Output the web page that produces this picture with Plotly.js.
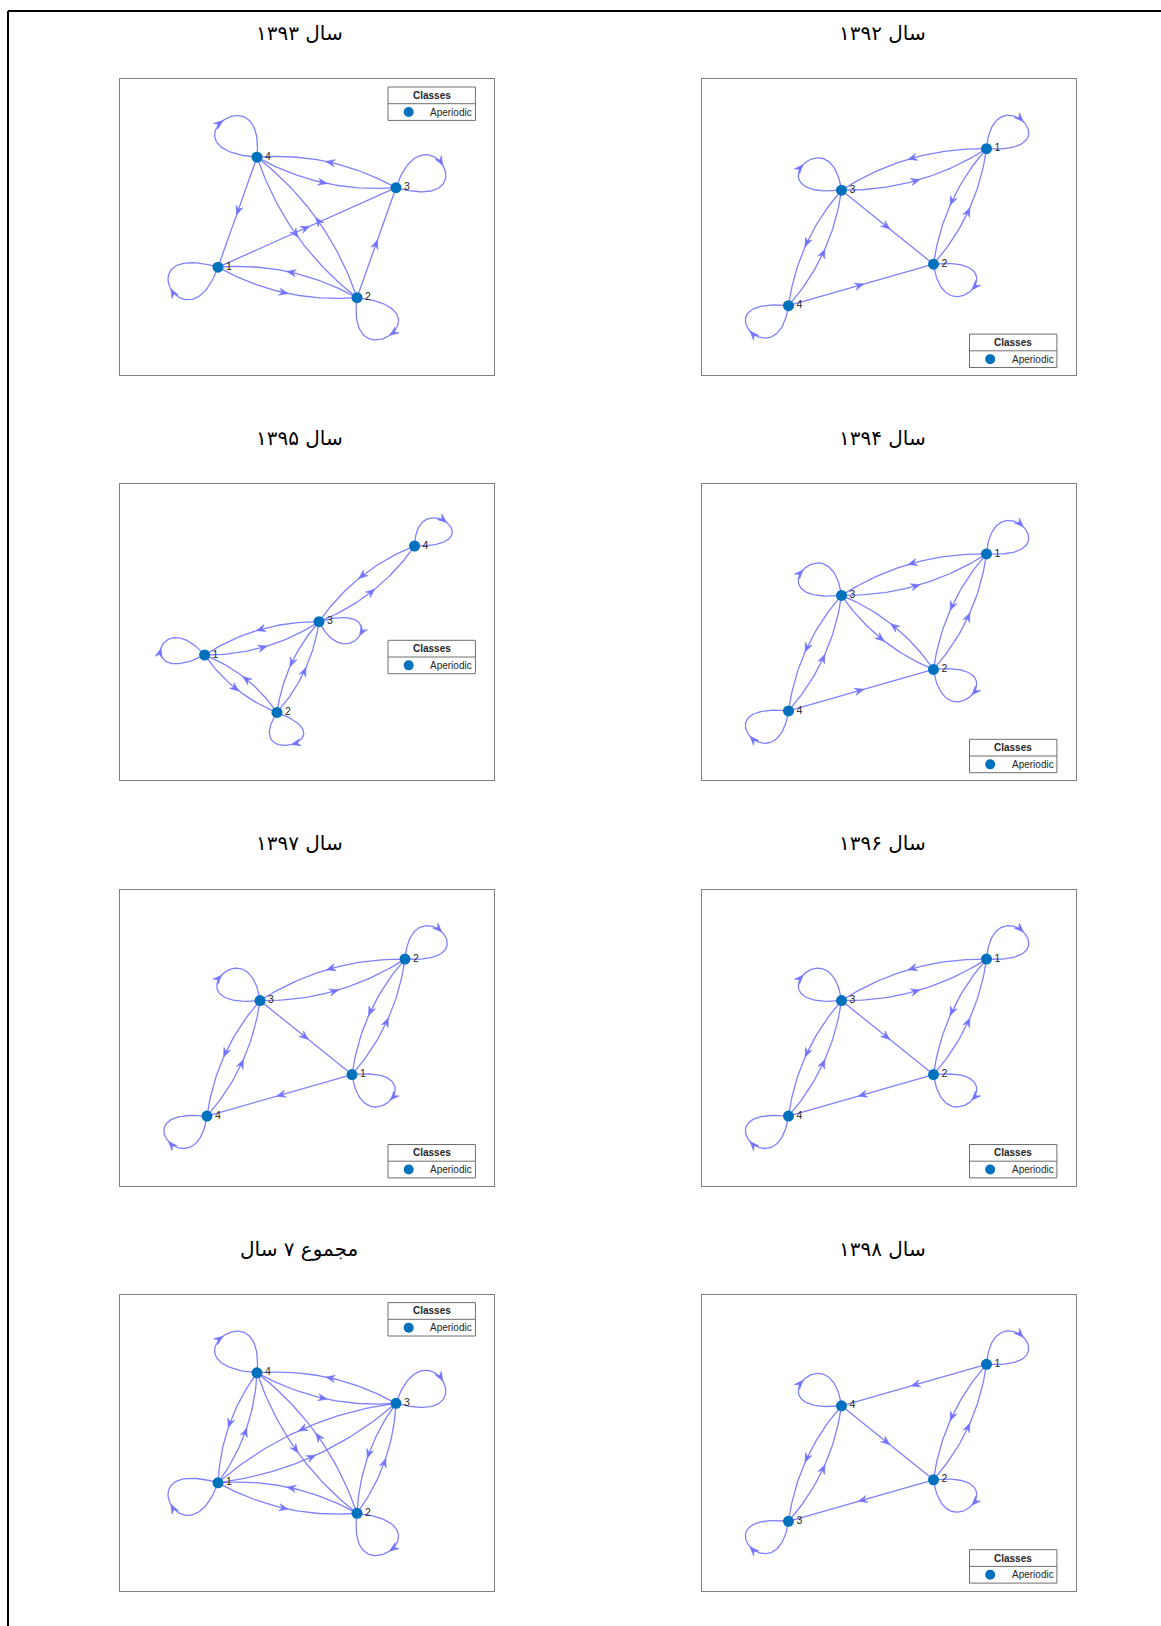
<!DOCTYPE html>
<html>
<head>
<meta charset="utf-8">
<script src="https://cdn.plot.ly/plotly-3.0.1.min.js"></script>
<style>
html,body{margin:0;padding:0;background:#ffffff;}
#chart{width:1161px;height:1626px;}
</style>
</head>
<body>
<div id="chart"></div>
<script>
// ---------------- DATA ----------------
// Panel titles (reading order: right column first, then left column, row by row)
const titles = ['سال ۱۳۹۲', 'سال ۱۳۹۳', 'سال ۱۳۹۴', 'سال ۱۳۹۵', 'سال ۱۳۹۶', 'سال ۱۳۹۷', 'سال ۱۳۹۸', 'مجموع ۷ سال'];
const stateLabels = ['1', '2', '3', '4'];
const legendTitle = 'Classes';
const legendEntry = 'Aperiodic';

// Graph-layout coordinates of states 1..4 in each panel
const nodeX1392 = [285, 232, 140, 87];
const nodeY1392 = [226.5, 111, 185, 69.5];
const nodeX1393 = [98, 237, 276, 137];
const nodeY1393 = [108, 77.5, 187.5, 218];
const nodeX1394 = [285, 232, 140, 87];
const nodeY1394 = [226.5, 111, 185, 69.5];
const nodeX1395 = [84.6, 157, 199, 294.6];
const nodeY1395 = [125.4, 68, 158.7, 234.4];
const nodeX1396 = [285, 232, 140, 87];
const nodeY1396 = [226.5, 111, 185, 69.5];
const nodeX1397 = [232, 285, 140, 87];
const nodeY1397 = [111, 226.5, 185, 69.5];
const nodeX1398 = [285, 232, 87, 140];
const nodeY1398 = [226.5, 111, 69.5, 185];
const nodeXTotal = [98, 237, 276, 137];
const nodeYTotal = [108, 77.5, 187.5, 218];

// Transitions with non-zero probability [from, to]
const edges1392 = [[1,1],[1,2],[1,3],[2,1],[2,2],[3,1],[3,2],[3,3],[3,4],[4,2],[4,3],[4,4]];
const edges1393 = [[1,1],[1,2],[1,3],[2,1],[2,2],[2,3],[2,4],[3,3],[3,4],[4,1],[4,2],[4,3],[4,4]];
const edges1394 = [[1,1],[1,2],[1,3],[2,1],[2,2],[2,3],[3,1],[3,2],[3,3],[3,4],[4,2],[4,3],[4,4]];
const edges1395 = [[1,1],[1,2],[1,3],[2,1],[2,2],[2,3],[3,1],[3,2],[3,3],[3,4],[4,3],[4,4]];
const edges1396 = [[1,1],[1,2],[1,3],[2,1],[2,2],[2,4],[3,1],[3,2],[3,3],[3,4],[4,3],[4,4]];
const edges1397 = [[1,1],[1,2],[1,4],[2,1],[2,2],[2,3],[3,1],[3,2],[3,3],[3,4],[4,3],[4,4]];
const edges1398 = [[1,1],[1,2],[1,4],[2,1],[2,2],[2,3],[3,3],[3,4],[4,2],[4,3],[4,4]];
const edgesTotal = [[1,1],[1,2],[1,3],[1,4],[2,1],[2,2],[2,3],[2,4],[3,1],[3,2],[3,3],[3,4],[4,1],[4,2],[4,3],[4,4]];

// Self-loop orientation for states 1..4 (degrees)
const loopDir1392 = [41, -38, 142, -142];
const loopDir1393 = [-153, -52, 28, 130];
const loopDir1394 = [41, -38, 142, -142];
const loopDir1395 = [169, -71, -24, 44];
const loopDir1396 = [41, -38, 142, -142];
const loopDir1397 = [-38, 41, 142, -142];
const loopDir1398 = [41, -38, -142, 142];
const loopDirTotal = [-153, -52, 28, 130];

// ---------------- LAYOUT / STYLE ----------------
const FIG_W = 1161, FIG_H = 1626;
const W = 374, H = 296;
const colLeft = [701.5, 120];      // right column, left column
const rowTop = [79.2, 484.4, 889.6, 1294.8];
const titleX = [882, 299];
const titleY0 = 33, rowStep = 405.2;
const legendTops = [254.9, 7.8, 254.9, 155.9, 254.9, 254.9, 254.9, 7.8];
const loopScale = [[92, 78], [100, 90], [92, 78], [84, 64], [92, 78], [92, 78], [92, 78], [100, 90]];
const LEG_L = 268, LEG_W = 87.4, LEG_HH = 16.7;

const EDGE_COLOR = '#8080ff';
const ARROW_COLOR = '#7373ff';
const NODE_COLOR = '#0072BD';
const BOW = 0.075;
const AR_LEN = 9, AR_HALF = 3.6, AR_NOTCH = 6;

const panels = [
  {x: nodeX1392, y: nodeY1392, e: edges1392, d: loopDir1392},
  {x: nodeX1393, y: nodeY1393, e: edges1393, d: loopDir1393},
  {x: nodeX1394, y: nodeY1394, e: edges1394, d: loopDir1394},
  {x: nodeX1395, y: nodeY1395, e: edges1395, d: loopDir1395},
  {x: nodeX1396, y: nodeY1396, e: edges1396, d: loopDir1396},
  {x: nodeX1397, y: nodeY1397, e: edges1397, d: loopDir1397},
  {x: nodeX1398, y: nodeY1398, e: edges1398, d: loopDir1398},
  {x: nodeXTotal, y: nodeYTotal, e: edgesTotal, d: loopDirTotal}
];

const traces = [];
const layout = {
  width: FIG_W, height: FIG_H,
  margin: {l: 0, r: 0, t: 0, b: 0},
  paper_bgcolor: '#ffffff', plot_bgcolor: '#ffffff',
  showlegend: false,
  shapes: [], annotations: []
};

// outer frame (left and top edges)
layout.shapes.push({type: 'line', xref: 'paper', yref: 'paper', x0: 8/FIG_W, x1: 8/FIG_W, y0: 1 - 11/FIG_H, y1: -0.01, line: {color: '#000', width: 2}});
layout.shapes.push({type: 'line', xref: 'paper', yref: 'paper', x0: 8/FIG_W, x1: 1.01, y0: 1 - 11/FIG_H, y1: 1 - 11/FIG_H, line: {color: '#000', width: 2}});

function pushHead(hx, hy, tip, tx, ty) {
  const L = Math.hypot(tx, ty) || 1;
  const dx = tx / L, dy = ty / L, nx = -dy, ny = dx;
  const [px, py] = tip;
  hx.push(px, px - AR_LEN * dx + AR_HALF * nx, px - AR_NOTCH * dx, px - AR_LEN * dx - AR_HALF * nx, px, null);
  hy.push(py, py - AR_LEN * dy + AR_HALF * ny, py - AR_NOTCH * dy, py - AR_LEN * dy - AR_HALF * ny, py, null);
}

panels.forEach((p, i) => {
  const col = i % 2, row = Math.floor(i / 2);
  const left = colLeft[col], top = rowTop[row];
  const ax = i === 0 ? '' : String(i + 1);
  const xr = 'x' + ax, yr = 'y' + ax;
  const axCommon = {showline: true, mirror: true, linecolor: '#808080', linewidth: 1,
    showticklabels: false, ticks: '', showgrid: false, zeroline: false, fixedrange: true};
  layout['xaxis' + ax] = Object.assign({domain: [left / FIG_W, (left + W) / FIG_W], range: [0, W], anchor: yr}, axCommon);
  layout['yaxis' + ax] = Object.assign({domain: [1 - (top + H) / FIG_H, 1 - top / FIG_H], range: [0, H], anchor: xr}, axCommon);

  const [kx, ky] = loopScale[i];
  const ex = [], ey = [], hx = [], hy = [];
  const has = (a, b) => p.e.some(q => q[0] === a && q[1] === b);
  p.e.forEach(([a, b]) => {
    const Ax = p.x[a - 1], Ay = p.y[a - 1];
    if (a === b) {
      const ang = p.d[a - 1] * Math.PI / 180;
      const u1 = [Math.cos(ang + Math.PI / 4), Math.sin(ang + Math.PI / 4)];
      const u2 = [Math.cos(ang - Math.PI / 4), Math.sin(ang - Math.PI / 4)];
      const P = t => {
        const b1 = 3 * (1 - t) * (1 - t) * t, b2 = 3 * (1 - t) * t * t;
        return [Ax + kx * (b1 * u1[0] + b2 * u2[0]), Ay + ky * (b1 * u1[1] + b2 * u2[1])];
      };
      for (let s = 0; s <= 80; s++) { const q = P(s / 80); ex.push(q[0]); ey.push(q[1]); }
      ex.push(null); ey.push(null);
      const t = 0.5;
      const d1 = 3 * (1 - t) * (1 - 3 * t), d2 = 3 * t * (2 - 3 * t);
      pushHead(hx, hy, P(t), kx * (d1 * u1[0] + d2 * u2[0]), ky * (d1 * u1[1] + d2 * u2[1]));
    } else {
      const Bx = p.x[b - 1], By = p.y[b - 1];
      const dx = Bx - Ax, dy = By - Ay, L = Math.hypot(dx, dy);
      const h = has(b, a) ? 2 * BOW * L : 0;
      const nx = dy / L, ny = -dx / L;
      const Cx = (Ax + Bx) / 2 + nx * h, Cy = (Ay + By) / 2 + ny * h;
      const P = t => [(1 - t) * (1 - t) * Ax + 2 * (1 - t) * t * Cx + t * t * Bx,
                      (1 - t) * (1 - t) * Ay + 2 * (1 - t) * t * Cy + t * t * By];
      for (let s = 0; s <= 40; s++) { const q = P(s / 40); ex.push(q[0]); ey.push(q[1]); }
      ex.push(null); ey.push(null);
      const t = 0.5 + 3 / L;
      pushHead(hx, hy, P(t), 2 * (1 - t) * (Cx - Ax) + 2 * t * (Bx - Cx), 2 * (1 - t) * (Cy - Ay) + 2 * t * (By - Cy));
    }
  });

  traces.push({type: 'scatter', mode: 'lines', x: ex, y: ey, xaxis: xr, yaxis: yr,
    line: {color: EDGE_COLOR, width: 1.3}, hoverinfo: 'skip', cliponaxis: false});
  traces.push({type: 'scatter', mode: 'lines', x: hx, y: hy, xaxis: xr, yaxis: yr, fill: 'toself',
    fillcolor: ARROW_COLOR, line: {color: ARROW_COLOR, width: 0.6}, hoverinfo: 'skip', cliponaxis: false});
  traces.push({type: 'scatter', mode: 'markers+text', x: p.x, y: p.y, text: stateLabels,
    textposition: 'middle right', xaxis: xr, yaxis: yr,
    textfont: {family: 'Liberation Sans, Arial, sans-serif', size: 10.5, color: '#262626'},
    marker: {size: 11, color: NODE_COLOR, line: {width: 0}}, hoverinfo: 'skip', cliponaxis: false});

  // title
  layout.annotations.push({xref: 'paper', yref: 'paper', x: titleX[col] / FIG_W,
    y: 1 - (titleY0 + rowStep * row) / FIG_H, xanchor: 'center', yanchor: 'middle',
    text: titles[i], showarrow: false,
    font: {family: 'DejaVu Sans, Noto Sans, sans-serif', size: 20, color: '#000'}});

  // legend box
  const lt = H - legendTops[i];
  const lb = lt - 2 * LEG_HH, lm = lt - LEG_HH;
  layout.shapes.push({type: 'rect', xref: xr, yref: yr, x0: LEG_L, x1: LEG_L + LEG_W, y0: lb, y1: lt,
    line: {color: '#6f6f6f', width: 1}, fillcolor: '#ffffff', layer: 'above'});
  layout.shapes.push({type: 'line', xref: xr, yref: yr, x0: LEG_L, x1: LEG_L + LEG_W, y0: lm, y1: lm,
    line: {color: '#6f6f6f', width: 1}, layer: 'above'});
  layout.shapes.push({type: 'circle', xref: xr, yref: yr, x0: LEG_L + 20.7 - 5, x1: LEG_L + 20.7 + 5,
    y0: (lm + lb) / 2 - 5, y1: (lm + lb) / 2 + 5, line: {width: 0}, fillcolor: NODE_COLOR, layer: 'above'});
  layout.annotations.push({xref: xr, yref: yr, x: LEG_L + LEG_W / 2, y: (lt + lm) / 2,
    xanchor: 'center', yanchor: 'middle', text: '<b>' + legendTitle + '</b>', showarrow: false,
    font: {family: 'Liberation Sans, Arial, sans-serif', size: 10, color: '#262626'}});
  layout.annotations.push({xref: xr, yref: yr, x: LEG_L + 40, y: (lm + lb) / 2,
    xanchor: 'left', yanchor: 'middle', text: legendEntry, showarrow: false,
    font: {family: 'Liberation Sans, Arial, sans-serif', size: 10, color: '#262626'}});
});

Plotly.newPlot('chart', traces, layout, {staticPlot: true, displayModeBar: false});
</script>
</body>
</html>
